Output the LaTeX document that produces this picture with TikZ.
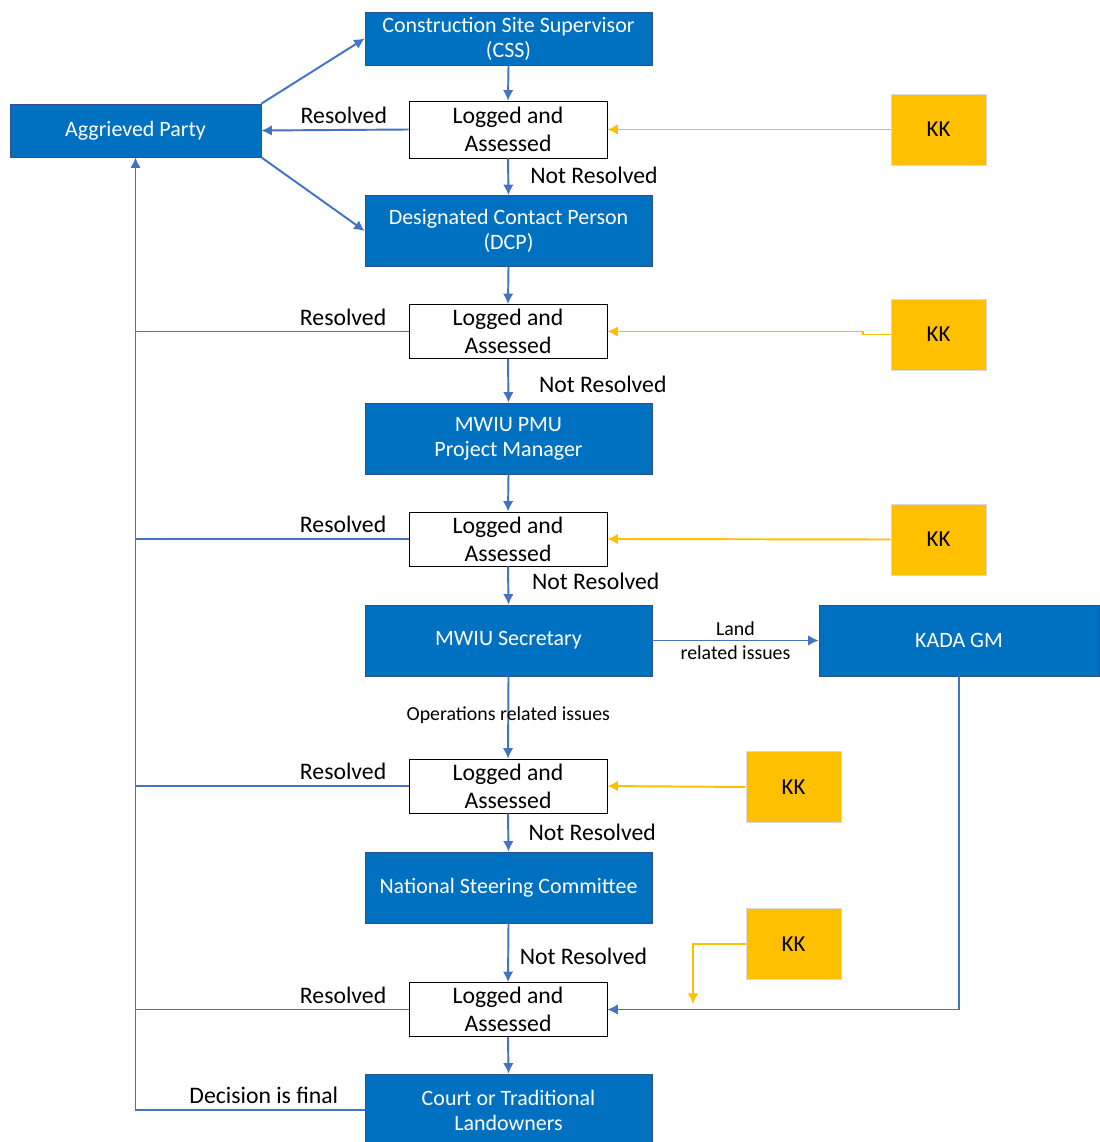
\documentclass[tikz,border=0pt]{standalone}
\usepackage{fontspec}
\setmainfont{Carlito}
\usetikzlibrary{positioning, arrows.meta}

\definecolor{boxblue}{HTML}{0070C0}
\definecolor{boxline}{HTML}{2F528F}
\definecolor{linkblue}{HTML}{4472C4}
\definecolor{kkyellow}{HTML}{FFC000}

\begin{document}
\begin{tikzpicture}[x=0.02cm, y=-0.02cm,
	main/.style={rectangle, fill=boxblue, draw=boxline, text=white, align=center, minimum width=5.74cm, minimum height=1.42cm, inner sep=0pt, font=\fontsize{12.5}{14.2}\selectfont},
	logged/.style={rectangle, fill=white, draw=black, align=center, minimum width=3.96cm, minimum height=1.08cm, inner sep=0pt, font=\fontsize{13.5}{16}\selectfont},
	kk/.style={rectangle, fill=kkyellow, draw=black!15, minimum width=1.9cm, minimum height=1.42cm, font=\fontsize{13}{15}\selectfont},
	lbl/.style={inner sep=0pt, font=\fontsize{13.5}{16}\selectfont},
	small/.style={inner sep=0pt, align=center, font=\fontsize{11.3}{13.7}\selectfont},
	link/.style={draw=linkblue, line width=1.1pt},
	kklink/.style={draw=kkyellow, line width=1.1pt},
	tip/.style={-{Latex[length=6pt, width=6pt]}}
	]
	
	\useasboundingbox (0,0) rectangle (1099,1142);
	
	\node (css) [main, minimum height=1.06cm] at (508.5,38.5) {Construction Site Supervisor\\(CSS)};
	\node (ap) [main, minimum width=5.02cm, minimum height=1.06cm] at (135.5,130.5) {Aggrieved Party};
	\node (log1) [logged, minimum height=1.14cm] at (508,129.5) {Logged and\\Assessed};
	\node (kk1) [kk] at (938.5,129.5) {KK};
	
	\node (dcp) [main] at (508.5,231) {Designated Contact Person\\(DCP)};
	\node (log2) [logged] at (508,331.5) {Logged and\\Assessed};
	\node (kk2) [kk] at (938.5,334.5) {KK};
	
	\node (pmu) [main] at (508.5,438.5) {MWIU PMU\\Project Manager};
	\node (log3) [logged] at (508,539) {Logged and\\Assessed};
	\node (kk3) [kk] at (938.5,539.5) {KK};
	
	\node (sec) [main] at (508.5,640.5) {MWIU Secretary};
	\node (kada) [main, minimum width=5.6cm] at (959,640.5) {KADA GM};
	\node (log4) [logged] at (508,786) {Logged and\\Assessed};
	\node (kk4) [kk] at (793.5,787) {KK};
	
	\node (nsc) [main] at (508.5,887.5) {National Steering Committee};
	\node (kk5) [kk] at (793.5,944) {KK};
	\node (log5) [logged] at (508,1009.5) {Logged and\\Assessed};
	
	\node (court) [main, minimum height=1.44cm] at (508.5,1110) {Court or Traditional\\Landowners};
	
	\coordinate (drop) at (693,1004);

	% main chain
	\draw [link, tip] (ap.north east) -- (css.west);
	\draw [link, tip] (ap.south east) -- (dcp.west);
	\draw [link, tip] (css.south) -- (log1.north);
	\draw [link, tip] (log1.west) -- node[lbl, above=3pt, pos=0.44] {Resolved} (ap.east);
	\draw [link, tip] (log1.south) -- node[lbl, right=12pt, yshift=1pt] {Not Resolved} (dcp.north);
	\draw [link, tip] (dcp.south) -- (log2.north);
	\draw [link, tip] (log2.south) -- node[lbl, right=17pt, yshift=-2pt] {Not Resolved} (pmu.north);
	\draw [link, tip] (pmu.south) -- (log3.north);
	\draw [link, tip] (log3.south) -- node[lbl, right=13pt, yshift=2.5pt] {Not Resolved} (sec.north);
	\draw [link, tip] (sec.east) -- node[small] {Land\\related issues} (kada.west);
	\draw [link, tip] (sec.south) -- node[small, pos=0.47] {Operations related issues} (log4.north);
	\draw [link, tip] (log4.south) -- node[lbl, right=11pt] {Not Resolved} (nsc.north);
	\draw [link, tip] (nsc.south) -- node[lbl, right=6pt, yshift=-2pt] {Not Resolved} (log5.north);
	\draw [link, tip] (log5.south) -- (court.north);
	\draw [link, tip] (kada.south) |- (log5.east);
	
	% back to the aggrieved party
	\draw [link, tip] (court.west) -| node[lbl, above=3pt, pos=0.22] {Decision is final} (ap.south);
	\draw [link] (log2.west) -- node[lbl, above=3pt, pos=0.24] {Resolved} (log2.west -| ap.south);
	\draw [link] (log3.west) -- node[lbl, above=3pt, pos=0.24] {Resolved} (log3.west -| ap.south);
	\draw [link] (log4.west) -- node[lbl, above=3pt, pos=0.24] {Resolved} (log4.west -| ap.south);
	\draw [link] (log5.west) -- node[lbl, above=3pt, pos=0.24] {Resolved} (log5.west -| ap.south);
	
	% KK inputs
	\draw [kklink, tip] (kk1.west) -- (log1.east);
	\draw [kklink, tip] (kk2.west) -- ++(-28,0) |- (log2.east);
	\draw [kklink, tip] (kk3.west) -- (log3.east);
	\draw [kklink, tip] (kk4.west) -- (log4.east);
	\draw [kklink, tip] (kk5.west) -| (drop);

\end{tikzpicture}
\end{document}
